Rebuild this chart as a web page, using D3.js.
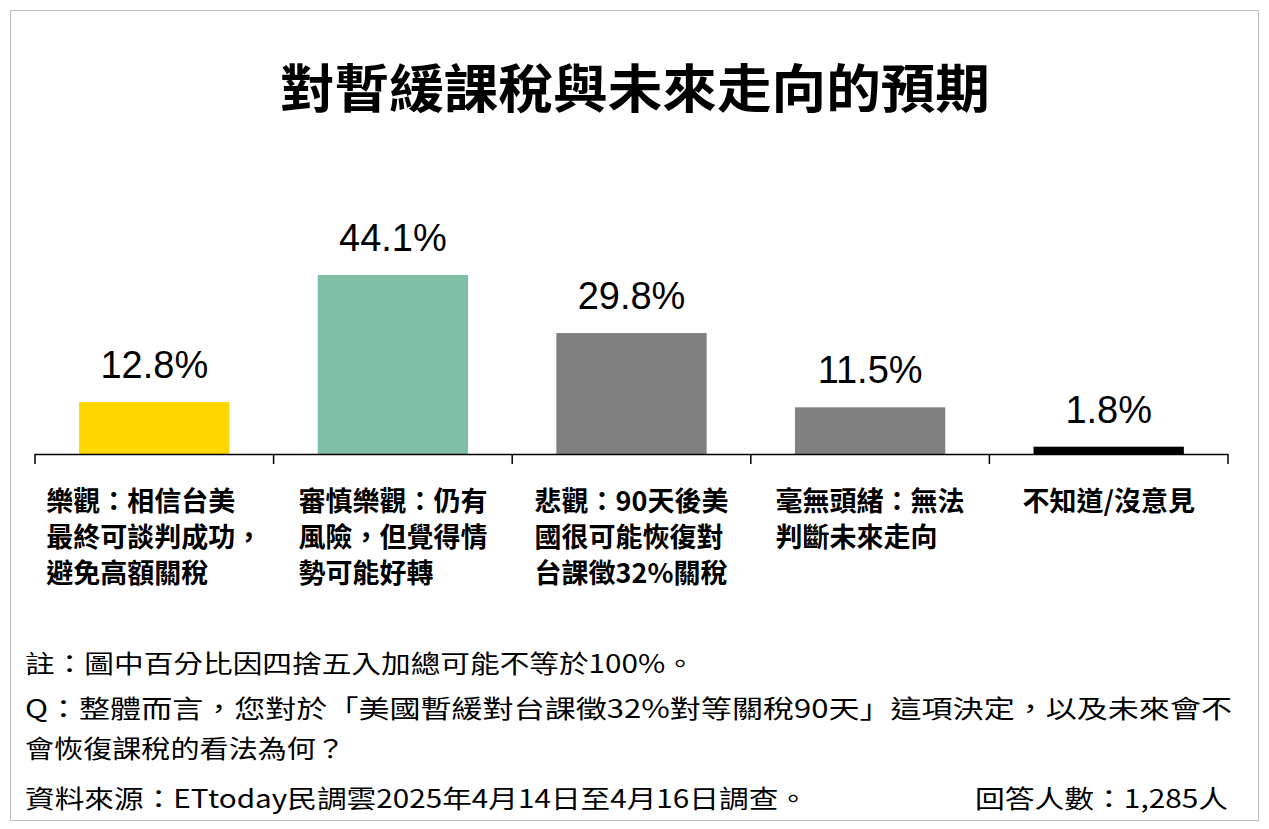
<!DOCTYPE html>
<html><head><meta charset="utf-8">
<script src="https://cdn.jsdelivr.net/npm/d3@7"></script>
<style>body{margin:0;background:#fff}text{font-family:"Noto Sans CJK TC","Noto Sans",sans-serif}text.num{font-family:"Liberation Sans",Arial,sans-serif}</style>
</head><body><svg id="c" width="1269" height="829"></svg>
<script>
const categories=["樂觀：相信台美|最終可談判成功，|避免高額關稅","審慎樂觀：仍有|風險，但覺得情|勢可能好轉","悲觀：90天後美|國很可能恢復對|台課徵32%關稅","毫無頭緒：無法|判斷未來走向","不知道/沒意見"];
const values=[12.8,44.1,29.8,11.5,1.8];
const colors=["#FFD700","#7FBFA5","#808080","#808080","#000000"];
const notes=["註：圖中百分比因四捨五入加總可能不等於100%。","Q：整體而言，您對於「美國暫緩對台課徵32%對等關稅90天」這項決定，以及未來會不","會恢復課稅的看法為何？","資料來源：ETtoday民調雲2025年4月14日至4月16日調查。"];
const respondents="回答人數：1,285人";
const title="對暫緩課稅與未來走向的預期";

const svg=d3.select("#c");
svg.append("rect").attr("x",10.5).attr("y",10.5).attr("width",1248).attr("height",810).attr("fill","none").attr("stroke","#bbb");
svg.append("text").attr("x",635).attr("y",108).attr("text-anchor","middle").attr("font-size",52).attr("font-weight","bold").attr("textLength",710).attr("lengthAdjust","spacingAndGlyphs").text(title);
const x=d3.scaleBand().domain(d3.range(5)).range([35,1228]).paddingInner(0.37).paddingOuter(0.185);
const y=d3.scaleLinear().domain([0,44.1]).range([454,275]);
svg.selectAll(".b").data(values).join("rect").attr("x",(d,i)=>x(i)).attr("width",x.bandwidth()).attr("y",d=>y(d)).attr("height",d=>454-y(d)).attr("fill",(d,i)=>colors[i]);
svg.selectAll(".v").data(values).join("text").attr("class","num").attr("x",(d,i)=>x(i)+x.bandwidth()/2).attr("y",d=>y(d)-24).attr("text-anchor","middle").attr("font-size",38).text(d=>d.toFixed(1)+"%");
svg.append("line").attr("x1",35).attr("x2",1228).attr("y1",454.5).attr("y2",454.5).attr("stroke","#000").attr("stroke-width",1.5);
const step=(1228-35)/5;
d3.range(6).forEach(i=>svg.append("line").attr("x1",35+i*step).attr("x2",35+i*step).attr("y1",454).attr("y2",464).attr("stroke","#000").attr("stroke-width",1.5));
categories.forEach((c,i)=>{
  const g=svg.append("g");
  const ts=c.split("|").map((l,j)=>g.append("text").attr("y",511+j*36).attr("font-size",27).attr("font-weight","bold").text(l));
  const w=d3.max(ts,t=>t.node().getComputedTextLength());
  ts.forEach(t=>t.attr("x",x(i)+x.bandwidth()/2-w/2));
});
const spans=[[673,670],[718,1207],[758,320],[808,783]];
notes.forEach((n,i)=>svg.append("text").attr("x",25).attr("y",spans[i][0]).attr("font-size",25).attr("textLength",spans[i][1]).attr("lengthAdjust","spacingAndGlyphs").text(n));
svg.append("text").attr("x",975).attr("y",808).attr("font-size",25).attr("textLength",253).attr("lengthAdjust","spacingAndGlyphs").text(respondents);
</script></body></html>
